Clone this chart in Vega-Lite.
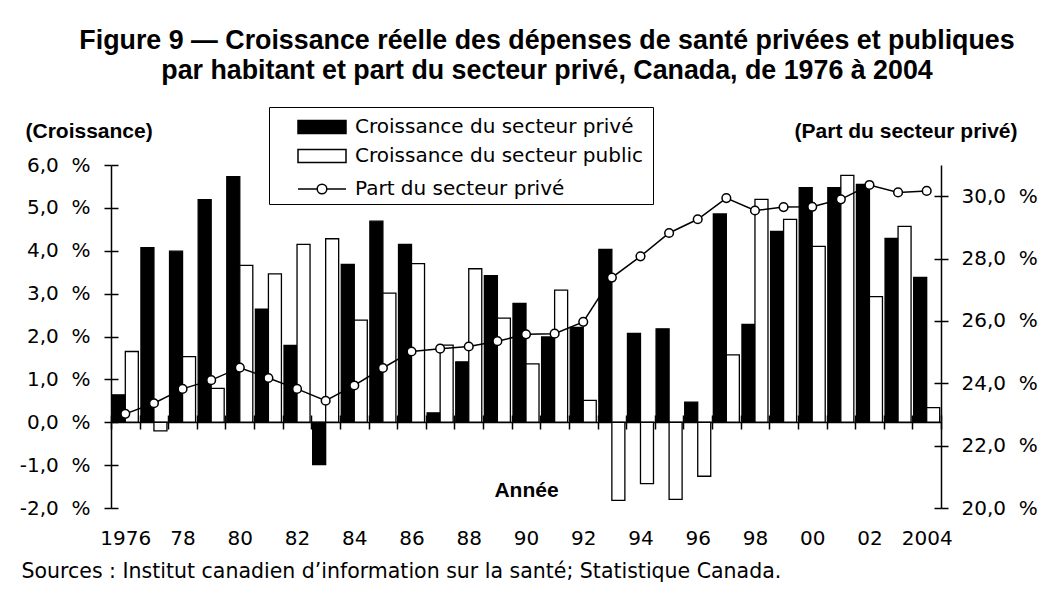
{
  "$schema": "https://vega.github.io/schema/vega-lite/v6.json",
  "width": 830,
  "height": 343,
  "autosize": {"type": "none"},
  "padding": {"left": 111, "top": 165, "right": 103, "bottom": 97},
  "background": "white",
  "config": {
    "view": {"stroke": null},
    "font": "DejaVu Sans",
    "axis": {
      "grid": false,
      "domainColor": "black",
      "domainWidth": 1.5,
      "tickColor": "black",
      "tickWidth": 1.5,
      "labelColor": "black",
      "labelFont": "DejaVu Sans",
      "labelFontSize": 20,
      "titleColor": "black",
      "titleFont": "Liberation Sans",
      "titleFontWeight": "bold",
      "titleFontSize": 21
    },
    "legend": {
      "orient": "none",
      "labelFont": "DejaVu Sans",
      "labelFontSize": 20,
      "labelColor": "black",
      "labelLimit": 500,
      "symbolSize": 256,
      "symbolStrokeColor": "black",
      "symbolStrokeWidth": 1.5,
      "symbolOpacity": 1,
      "symbolOffset": 33,
      "labelOffset": 23,
      "rowPadding": 9,
      "padding": 10
    }
  },
  "title": {
    "text": ["Figure 9 — Croissance réelle des dépenses de santé privées et publiques", "par habitant et part du secteur privé, Canada, de 1976 à 2004"],
    "font": "Liberation Sans",
    "fontSize": 26.8,
    "fontWeight": "bold",
    "color": "black",
    "lineHeight": 30,
    "anchor": "middle",
    "frame": "group",
    "offset": 22,
    "dx": 21
  },
  "datasets": {
    "bars": [
      {"year": 1976, "series": "Croissance du secteur privé", "value": 0.64},
      {"year": 1977, "series": "Croissance du secteur privé", "value": 4.07},
      {"year": 1978, "series": "Croissance du secteur privé", "value": 3.99},
      {"year": 1979, "series": "Croissance du secteur privé", "value": 5.19},
      {"year": 1980, "series": "Croissance du secteur privé", "value": 5.73},
      {"year": 1981, "series": "Croissance du secteur privé", "value": 2.64},
      {"year": 1982, "series": "Croissance du secteur privé", "value": 1.79},
      {"year": 1983, "series": "Croissance du secteur privé", "value": -0.99},
      {"year": 1984, "series": "Croissance du secteur privé", "value": 3.68},
      {"year": 1985, "series": "Croissance du secteur privé", "value": 4.69},
      {"year": 1986, "series": "Croissance du secteur privé", "value": 4.15},
      {"year": 1987, "series": "Croissance du secteur privé", "value": 0.22},
      {"year": 1988, "series": "Croissance du secteur privé", "value": 1.41},
      {"year": 1989, "series": "Croissance du secteur privé", "value": 3.42},
      {"year": 1990, "series": "Croissance du secteur privé", "value": 2.77},
      {"year": 1991, "series": "Croissance du secteur privé", "value": 1.99},
      {"year": 1992, "series": "Croissance du secteur privé", "value": 2.21},
      {"year": 1993, "series": "Croissance du secteur privé", "value": 4.03},
      {"year": 1994, "series": "Croissance du secteur privé", "value": 2.07},
      {"year": 1995, "series": "Croissance du secteur privé", "value": 2.18},
      {"year": 1996, "series": "Croissance du secteur privé", "value": 0.47},
      {"year": 1997, "series": "Croissance du secteur privé", "value": 4.86},
      {"year": 1998, "series": "Croissance du secteur privé", "value": 2.28},
      {"year": 1999, "series": "Croissance du secteur privé", "value": 4.45},
      {"year": 2000, "series": "Croissance du secteur privé", "value": 5.47},
      {"year": 2001, "series": "Croissance du secteur privé", "value": 5.47},
      {"year": 2002, "series": "Croissance du secteur privé", "value": 5.55},
      {"year": 2003, "series": "Croissance du secteur privé", "value": 4.29},
      {"year": 2004, "series": "Croissance du secteur privé", "value": 3.38},
      {"year": 1976, "series": "Croissance du secteur public", "value": 1.65},
      {"year": 1977, "series": "Croissance du secteur public", "value": -0.2},
      {"year": 1978, "series": "Croissance du secteur public", "value": 1.53},
      {"year": 1979, "series": "Croissance du secteur public", "value": 0.79},
      {"year": 1980, "series": "Croissance du secteur public", "value": 3.66},
      {"year": 1981, "series": "Croissance du secteur public", "value": 3.46},
      {"year": 1982, "series": "Croissance du secteur public", "value": 4.15},
      {"year": 1983, "series": "Croissance du secteur public", "value": 4.28},
      {"year": 1984, "series": "Croissance du secteur public", "value": 2.38},
      {"year": 1985, "series": "Croissance du secteur public", "value": 3.01},
      {"year": 1986, "series": "Croissance du secteur public", "value": 3.7},
      {"year": 1987, "series": "Croissance du secteur public", "value": 1.8},
      {"year": 1988, "series": "Croissance du secteur public", "value": 3.58},
      {"year": 1989, "series": "Croissance du secteur public", "value": 2.43},
      {"year": 1990, "series": "Croissance du secteur public", "value": 1.36},
      {"year": 1991, "series": "Croissance du secteur public", "value": 3.08},
      {"year": 1992, "series": "Croissance du secteur public", "value": 0.51},
      {"year": 1993, "series": "Croissance du secteur public", "value": -1.82},
      {"year": 1994, "series": "Croissance du secteur public", "value": -1.43},
      {"year": 1995, "series": "Croissance du secteur public", "value": -1.8},
      {"year": 1996, "series": "Croissance du secteur public", "value": -1.26},
      {"year": 1997, "series": "Croissance du secteur public", "value": 1.57},
      {"year": 1998, "series": "Croissance du secteur public", "value": 5.2},
      {"year": 1999, "series": "Croissance du secteur public", "value": 4.73},
      {"year": 2000, "series": "Croissance du secteur public", "value": 4.1},
      {"year": 2001, "series": "Croissance du secteur public", "value": 5.76},
      {"year": 2002, "series": "Croissance du secteur public", "value": 2.93},
      {"year": 2003, "series": "Croissance du secteur public", "value": 4.57},
      {"year": 2004, "series": "Croissance du secteur public", "value": 0.34}
    ],
    "share": [
      {"year": 1976, "share": 23.02},
      {"year": 1977, "share": 23.36},
      {"year": 1978, "share": 23.82},
      {"year": 1979, "share": 24.1},
      {"year": 1980, "share": 24.5},
      {"year": 1981, "share": 24.17},
      {"year": 1982, "share": 23.82},
      {"year": 1983, "share": 23.44},
      {"year": 1984, "share": 23.93},
      {"year": 1985, "share": 24.49},
      {"year": 1986, "share": 25.02},
      {"year": 1987, "share": 25.11},
      {"year": 1988, "share": 25.18},
      {"year": 1989, "share": 25.35},
      {"year": 1990, "share": 25.57},
      {"year": 1991, "share": 25.59},
      {"year": 1992, "share": 25.97},
      {"year": 1993, "share": 27.39},
      {"year": 1994, "share": 28.07},
      {"year": 1995, "share": 28.82},
      {"year": 1996, "share": 29.26},
      {"year": 1997, "share": 29.94},
      {"year": 1998, "share": 29.54},
      {"year": 1999, "share": 29.65},
      {"year": 2000, "share": 29.66},
      {"year": 2001, "share": 29.9},
      {"year": 2002, "share": 30.36},
      {"year": 2003, "share": 30.12},
      {"year": 2004, "share": 30.17}
    ]
  },
  "layer": [
    {
      "data": {"name": "bars"},
      "transform": [{"filter": "datum.series === 'Croissance du secteur privé'"}],
      "mark": {"type": "bar", "stroke": "black", "strokeWidth": 1.3},
      "encoding": {
        "x": {
          "field": "year", "type": "ordinal",
          "scale": {"paddingInner": 0, "paddingOuter": 0},
          "axis": {
            "orient": "bottom", "offset": -86, "tickBand": "extent", "tickSize": 7,
            "labelPadding": 99, "labelBaseline": "top", "labelAngle": 0, "labelOverlap": false, "labelBound": false,
            "labelExpr": "datum.value == 1976 || datum.value == 2004 ? datum.label : (datum.value % 2 == 0 ? substring(datum.label, 2, 4) : '')",
            "title": "Année", "titleY": 68, "titleBaseline": "middle"
          }
        },
        "xOffset": {
          "field": "series", "type": "nominal",
          "scale": {"domain": ["Croissance du secteur privé", "Croissance du secteur public"], "paddingInner": 0, "paddingOuter": 0.1}
        },
        "y": {
          "field": "value", "type": "quantitative",
          "scale": {"domain": [-2, 6], "nice": false, "zero": false},
          "axis": {
            "orient": "left", "values": [-2, -1, 0, 1, 2, 3, 4, 5, 6], "tickSize": 7, "labelPadding": 14,
            "labelExpr": "replace(replace(format(datum.value, '.1f'), '.', ','), '−', '-') + '\u2007%'",
            "title": "(Croissance)", "titleAngle": 0, "titleX": -86, "titleY": -34, "titleAlign": "left", "titleBaseline": "middle"
          }
        },
        "fill": {
          "field": "series", "type": "nominal",
          "scale": {"domain": ["Croissance du secteur privé", "Croissance du secteur public"], "range": ["black", "white"]},
          "legend": {
            "legendX": 158, "legendY": -58,
            "title": " ", "titleOrient": "bottom", "titleFontSize": 20, "titlePadding": 8,
            "strokeColor": "black",
            "symbolType": "M-3,-0.8H3V0.8H-3Z",
            "labelExpr": "datum.label + '\u00a0\u00a0\u00a0'"
          }
        }
      }
    },
    {
      "data": {"name": "bars"},
      "transform": [{"filter": "datum.series === 'Croissance du secteur public'"}],
      "mark": {"type": "bar", "stroke": "black", "strokeWidth": 1.3, "fill": "white"},
      "encoding": {
        "x": {
          "field": "year", "type": "ordinal",
          "axis": {
            "orient": "bottom", "offset": -93, "tickBand": "extent", "tickSize": 7,
            "domain": false, "labels": false,
            "title": "Sources : Institut canadien d’information sur la santé; Statistique Canada.",
            "titleX": -90, "titleY": 156, "titleAlign": "left", "titleBaseline": "middle",
            "titleFont": "DejaVu Sans", "titleFontWeight": "normal", "titleFontSize": 20.5
          }
        },
        "xOffset": {
          "field": "series", "type": "nominal",
          "scale": {"domain": ["Croissance du secteur privé", "Croissance du secteur public"], "paddingInner": 0, "paddingOuter": 0.1}
        },
        "y": {
          "field": "value", "type": "quantitative",
          "scale": {"domain": [-2, 6], "nice": false, "zero": false},
          "axis": {
            "orient": "left", "offset": -7, "values": [-2, -1, 0, 1, 2, 3, 4, 5, 6], "tickSize": 7,
            "domain": false, "labels": false, "title": null
          }
        }
      }
    },
    {
      "data": {"name": "share"},
      "mark": {"type": "line", "strokeWidth": 1.5},
      "encoding": {
        "x": {"field": "year", "type": "ordinal", "axis": null},
        "y": {
          "field": "share", "type": "quantitative",
          "scale": {"domain": [20, 31], "nice": false, "zero": false},
          "axis": {
            "orient": "right", "values": [20, 22, 24, 26, 28, 30], "tickSize": 7, "labelPadding": 13,
            "labelExpr": "replace(format(datum.value, '.1f'), '.', ',') + '\u2007%'",
            "title": "(Part du secteur privé)", "titleAngle": 0, "titleX": 76, "titleY": -34, "titleAlign": "right", "titleBaseline": "middle"
          }
        },
        "stroke": {
          "datum": "Part du secteur privé", "type": "nominal",
          "scale": {"range": ["black"]},
          "legend": {
            "legendX": 158, "legendY": 4, "title": null,
            "symbolType": "M-3,0H-0.6M0.6,0H3M0.6,0A0.6,0.6,0,1,1,-0.6,0A0.6,0.6,0,1,1,0.6,0Z",
            "symbolFillColor": "white"
          }
        }
      }
    },
    {
      "data": {"name": "share"},
      "mark": {"type": "point", "shape": "circle", "filled": true, "fill": "white", "stroke": "black", "strokeWidth": 1.5, "size": 75, "opacity": 1},
      "encoding": {
        "x": {"field": "year", "type": "ordinal", "axis": null},
        "y": {
          "field": "share", "type": "quantitative",
          "scale": {"domain": [20, 31], "nice": false, "zero": false},
          "axis": {
            "orient": "right", "offset": -7, "values": [20, 22, 24, 26, 28, 30], "tickSize": 7,
            "domain": false, "labels": false, "title": null
          }
        }
      }
    }
  ],
  "resolve": {
    "scale": {"y": "independent"},
    "axis": {"x": "independent", "y": "independent"}
  }
}
